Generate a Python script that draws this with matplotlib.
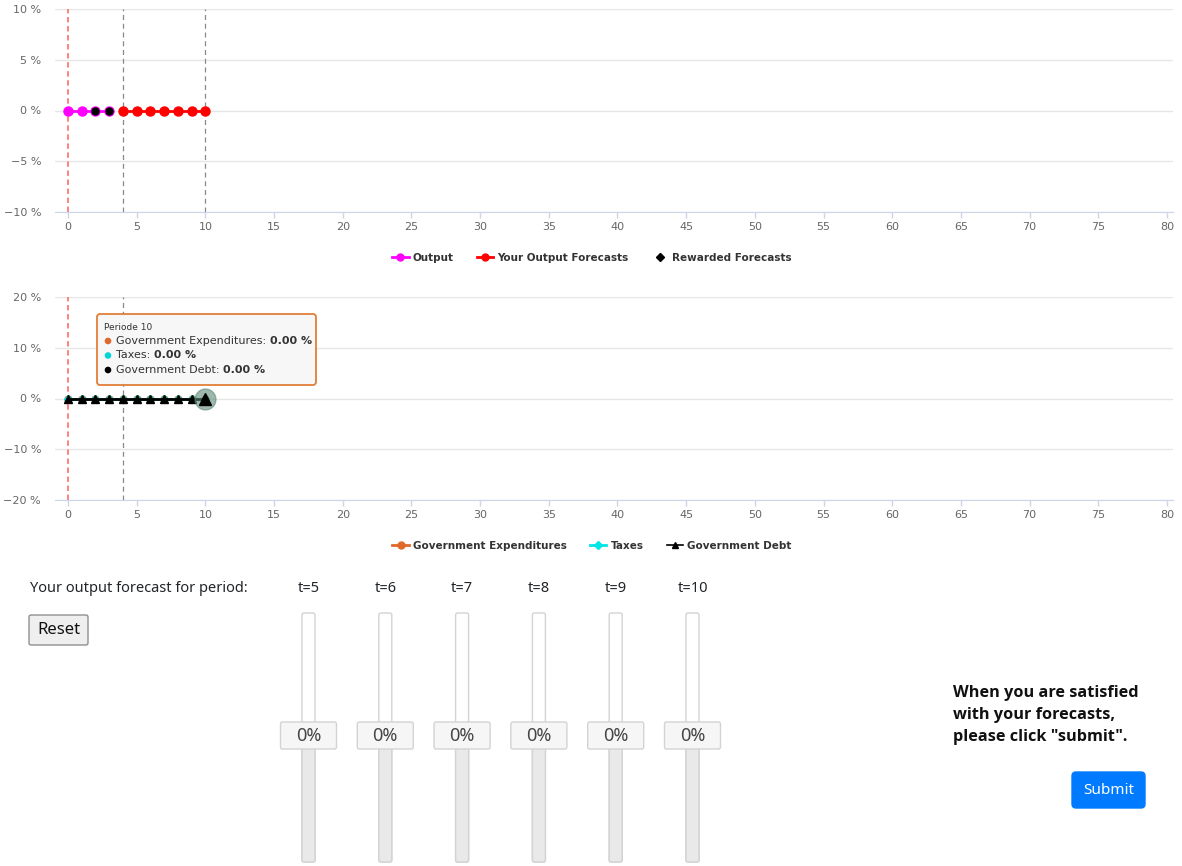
import matplotlib
matplotlib.use("Agg")
import matplotlib.pyplot as plt
from matplotlib.patches import FancyBboxPatch, Circle
from matplotlib.lines import Line2D

# données du graphique
output_periods = [0, 1, 2, 3]
output_values = [0, 0, 0, 0]
forecast_periods = [4, 5, 6, 7, 8, 9, 10]
forecast_values = [0, 0, 0, 0, 0, 0, 0]
rewarded_periods = [2, 3]
rewarded_values = [0, 0]

gov_periods = [0, 1, 2, 3, 4, 5, 6, 7, 8, 9, 10]
gov_expenditures = [0, 0, 0, 0, 0, 0, 0, 0, 0, 0, 0]
taxes = [0, 0, 0, 0, 0, 0, 0, 0, 0, 0, 0]
gov_debt = [0, 0, 0, 0, 0, 0, 0, 0, 0, 0, 0]

x_ticks = list(range(0, 81, 5))
top_yticks = [-10, -5, 0, 5, 10]
bottom_yticks = [-20, -10, 0, 10, 20]

slider_labels = ["t=5", "t=6", "t=7", "t=8", "t=9", "t=10"]
slider_values = [0, 0, 0, 0, 0, 0]

W, H = 1182, 866
fig = plt.figure(figsize=(W / 100, H / 100), dpi=100)
fig.patch.set_facecolor("white")


def box(left, top, right, bottom):
    return [left / W, 1 - bottom / H, (right - left) / W, (bottom - top) / H]


def pct(v):
    return ("\u2212" if v < 0 else "") + "%d %%" % abs(v)


def style_chart(ax, yticks):
    ax.set_xlim(-0.946, 80.44)
    ax.set_ylim(yticks[0], yticks[-1])
    ax.set_xticks(x_ticks)
    ax.set_yticks(yticks)
    ax.set_yticklabels([pct(v) for v in yticks])
    for s in ["top", "right", "left"]:
        ax.spines[s].set_visible(False)
    ax.spines["bottom"].set_color("#ccd6eb")
    ax.tick_params(axis="x", colors="#ccd6eb", length=4, width=1, labelcolor="#666666",
                   labelsize=8, pad=3)
    ax.tick_params(axis="y", length=0, labelcolor="#666666", labelsize=8, pad=10)
    ax.grid(axis="y", color="#e6e6e6", lw=1)
    ax.set_axisbelow(True)


# graphique du haut
ax1 = fig.add_axes(box(55, 9, 1173, 212))
style_chart(ax1, top_yticks)
ax1.axvline(0, color="#ff5555", ls=(0, (3, 2)), lw=1.3, alpha=0.8)
ax1.axvline(4, color="#888888", ls=(0, (4, 3)), lw=0.9)
ax1.axvline(10, color="#888888", ls=(0, (4, 3)), lw=0.9)
ax1.plot(output_periods, output_values, color="#ff00ff", lw=2, marker="o", ms=6.5,
         label="Output", zorder=3)
ax1.plot(forecast_periods, forecast_values, color="#ff0000", lw=2, marker="o", ms=6.5,
         label="Your Output Forecasts", zorder=3)
ax1.plot(rewarded_periods, rewarded_values, ls="none", color="black", marker="o", ms=5,
         zorder=4)

h1 = [Line2D([], [], color="#ff00ff", lw=2, marker="o", ms=5),
      Line2D([], [], color="#ff0000", lw=2, marker="o", ms=5),
      Line2D([], [], ls="none", color="black", marker="D", ms=4)]
fig.legend(h1, ["Output", "Your Output Forecasts", "Rewarded Forecasts"],
           loc="center", bbox_to_anchor=(592 / W, 1 - 258 / H), ncol=3, frameon=False,
           prop={"weight": "bold", "size": 7.5}, labelcolor="#333333",
           handlelength=1.6, handletextpad=0.4, columnspacing=2.2)

# graphique du bas
ax2 = fig.add_axes(box(55, 297, 1173, 500))
style_chart(ax2, bottom_yticks)
ax2.axvline(0, color="#ff5555", ls=(0, (3, 2)), lw=1.3, alpha=0.8)
ax2.axvline(4, color="#888888", ls=(0, (4, 3)), lw=0.9)
ax2.plot(gov_periods, gov_expenditures, color="#e0682a", lw=2, marker="o", ms=5, zorder=3)
ax2.plot(gov_periods, taxes, color="#00e5e5", lw=2, marker="D", ms=4, zorder=3)
ax2.plot(gov_periods, gov_debt, color="black", lw=2, marker="^", ms=5.5, zorder=4)
ax2.plot([gov_periods[-1]], [gov_debt[-1]], ls="none", marker="o", ms=15,
         color="#5f8a78", alpha=0.6, zorder=5)
ax2.plot([gov_periods[-1]], [gov_debt[-1]], ls="none", marker="^", ms=8,
         color="black", zorder=6)

h2 = [Line2D([], [], color="#e0682a", lw=2, marker="o", ms=5),
      Line2D([], [], color="#00e5e5", lw=2, marker="D", ms=4),
      Line2D([], [], color="black", lw=1.2, marker="^", ms=5)]
fig.legend(h2, ["Government Expenditures", "Taxes", "Government Debt"],
           loc="center", bbox_to_anchor=(592 / W, 1 - 546 / H), ncol=3, frameon=False,
           prop={"weight": "bold", "size": 7.5}, labelcolor="#333333",
           handlelength=1.6, handletextpad=0.4, columnspacing=2.2)

# couche en pixels pour l'interface
ui = fig.add_axes([0, 0, 1, 1])
ui.set_xlim(0, W)
ui.set_ylim(H, 0)
ui.axis("off")
ui.patch.set_alpha(0)
ui.set_zorder(10)

ui_font = ["Noto Sans", "DejaVu Sans"]
bold_font = ["Open Sans", "DejaVu Sans"]
renderer = fig.canvas.get_renderer()

# infobulle
ui.add_patch(FancyBboxPatch((97, 314), 219, 71, boxstyle="round,pad=0,rounding_size=3",
                            fc="#f7f7f7", ec="#e0782f", lw=1.3, alpha=0.95))
ui.text(104, 327, "Periode 10", fontsize=6.5, color="#333333", va="center")
tip_rows = [("Government Expenditures: ", "#e0682a"), ("Taxes: ", "#00d5d5"),
            ("Government Debt: ", "black")]
tip_vals = [gov_expenditures[-1], taxes[-1], gov_debt[-1]]
for i, ((lab, col), v) in enumerate(zip(tip_rows, tip_vals)):
    y = 341 + i * 14.5
    ui.add_patch(Circle((108, y), 2.6, color=col))
    t = ui.text(116, y, lab, fontsize=8, color="#333333", va="center")
    bb = t.get_window_extent(renderer)
    ui.text(bb.x1, y, "%.2f %%" % v, fontsize=8, color="#333333", va="center",
            weight="bold")

# texte et bouton reset
ui.text(30, 589, "Your output forecast for period:", fontsize=10.5, family=ui_font,
        color="#212529", va="center")
ui.add_patch(FancyBboxPatch((29, 615), 59, 30, boxstyle="round,pad=0,rounding_size=2",
                            fc="#efefef", ec="#8f8f8f", lw=1))
ui.text(58.5, 630.5, "Reset", fontsize=12, family=ui_font, color="#111111",
        ha="center", va="center")

# curseurs
for i, (lab, val) in enumerate(zip(slider_labels, slider_values)):
    cx = 308.5 + i * 76.8
    ui.text(cx, 589, lab, fontsize=10.5, family=ui_font, color="#212529",
            ha="center", va="center")
    ui.add_patch(FancyBboxPatch((cx - 6.5, 613), 13, 249,
                                boxstyle="round,pad=0,rounding_size=2",
                                fc="white", ec="#d3d3d3", lw=1))
    ui.add_patch(FancyBboxPatch((cx - 6.5, 735), 13, 127,
                                boxstyle="round,pad=0,rounding_size=2",
                                fc="#e9e9e9", ec="#d3d3d3", lw=1))
    ui.add_patch(FancyBboxPatch((cx - 28, 722), 56, 27,
                                boxstyle="round,pad=0,rounding_size=2",
                                fc="#f6f6f6", ec="#d3d3d3", lw=1))
    ui.text(cx, 736, "%d%%" % val, fontsize=13, family=ui_font, color="#454545",
            ha="center", va="center")

# message et bouton submit
msg = ["When you are satisfied", "with your forecasts,", 'please click "submit".']
for i, line in enumerate(msg):
    ui.text(953, 693 + i * 22, line, fontsize=11.7, family=bold_font, weight="bold",
            color="#111111", va="center")
ui.add_patch(FancyBboxPatch((1072, 772), 73, 36, boxstyle="round,pad=0,rounding_size=4",
                            fc="#007bff", ec="#007bff", lw=1))
ui.text(1108.5, 790.5, "Submit", fontsize=11, family=ui_font, color="white",
        ha="center", va="center")

fig.savefig("out.png", dpi=100)
